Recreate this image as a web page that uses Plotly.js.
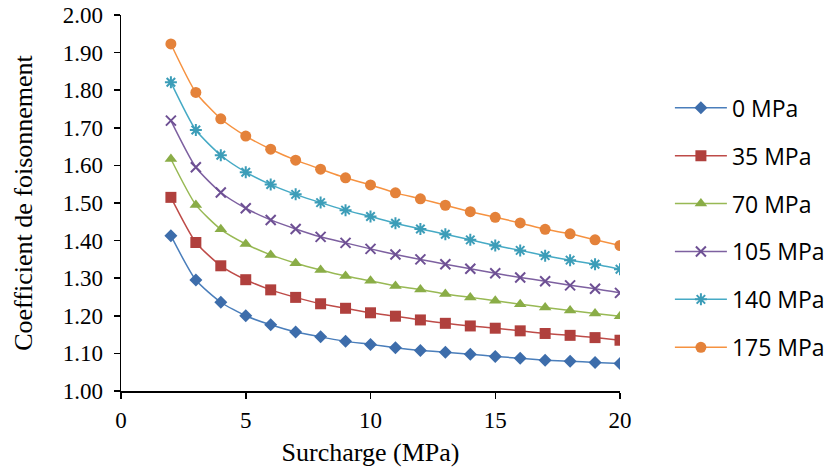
<!DOCTYPE html>
<html><head><meta charset="utf-8">
<script src="https://cdn.plot.ly/plotly-3.0.1.min.js"></script>
<style>body{margin:0;background:#fff}#c{width:826px;height:470px}</style>
</head><body><div id="c"></div>
<script>
const surcharge = [2,3,4,5,6,7,8,9,10,11,12,13,14,15,16,17,18,19,20];
const seriesNames = ['0 MPa','35 MPa','70 MPa','105 MPa','140 MPa','175 MPa'];
const s0   = [1.413,1.295,1.236,1.200,1.176,1.157,1.144,1.132,1.124,1.115,1.108,1.103,1.098,1.092,1.087,1.082,1.079,1.076,1.073];
const s35  = [1.515,1.395,1.333,1.296,1.269,1.249,1.232,1.220,1.208,1.199,1.189,1.180,1.173,1.167,1.160,1.153,1.148,1.142,1.135];
const s70  = [1.617,1.495,1.430,1.391,1.362,1.340,1.322,1.306,1.293,1.279,1.270,1.258,1.249,1.240,1.231,1.222,1.214,1.206,1.199];
const s105 = [1.719,1.595,1.528,1.486,1.455,1.431,1.410,1.394,1.378,1.363,1.350,1.337,1.325,1.313,1.302,1.292,1.281,1.272,1.261];
const s140 = [1.821,1.694,1.627,1.582,1.549,1.523,1.501,1.481,1.464,1.446,1.431,1.417,1.402,1.387,1.374,1.360,1.348,1.337,1.324];
const s175 = [1.923,1.794,1.724,1.678,1.643,1.614,1.590,1.567,1.548,1.527,1.511,1.494,1.477,1.462,1.447,1.430,1.418,1.402,1.387];
const allSeries = [s0,s35,s70,s105,s140,s175];
const lineColors = ['#4A7EBB','#BE4B48','#98B954','#7D60A0','#46AAC5','#F69240'];
const markerColors = ['#3D6DAB','#B0403D','#8AAD47','#6E5094','#3C9DB8','#E4823A'];
const symbols = ['diamond','square','triangle-up','x-thin-open','asterisk-open','circle'];
const sizes = [10,11,11,10,10,11];

const traces = allSeries.map((ys,i)=>{
  const open = symbols[i].endsWith('-open');
  return {
    x: surcharge, y: ys, name: seriesNames[i], type:'scatter', mode:'lines+markers',
    legendgroup: 'g'+i,
    line:{color:lineColors[i], width:1.5, shape:'spline', smoothing:0.6},
    marker:{symbol:symbols[i], size:sizes[i], color:markerColors[i],
      line:{color:markerColors[i], width: open?2:0}}
  };
});

const serif = '"Liberation Serif", "Times New Roman", serif';
const axisFont = {family:serif, size:23, color:'#000'};
const layout = {
  width:826, height:470,
  margin:{l:121, r:206, t:15, b:79, autoexpand:false},
  paper_bgcolor:'#fff', plot_bgcolor:'#fff',
  showlegend:true,
  legend:{x:1.1, xanchor:'left', y:0.434, yanchor:'middle', itemwidth:52,
    font:{family:'"Open Sans", Lato, sans-serif', size:23, color:'#000'},
    tracegroupgap:15, bgcolor:'rgba(0,0,0,0)'},
  xaxis:{range:[0,20], dtick:5, tick0:0, showgrid:false, zeroline:false,
    showline:true, linecolor:'#000', linewidth:1.5, ticks:'outside', ticklen:6, tickcolor:'#000', tickwidth:1.5,
    tickfont:axisFont, ticklabelstandoff:2,
    title:{text:'Surcharge (MPa)', font:{family:serif, size:26, color:'#000'}, standoff:10}},
  yaxis:{range:[1,2], dtick:0.1, tick0:1, tickformat:'.2f', showgrid:false, zeroline:false,
    showline:true, linecolor:'#000', linewidth:1.5, ticks:'outside', ticklen:6, tickcolor:'#000', tickwidth:1.5,
    tickfont:axisFont, ticklabelstandoff:6,
    title:{text:'Coefficient de foisonnement', font:{family:serif, size:26, color:'#000'}, standoff:22}}
};
Plotly.newPlot('c', traces, layout, {staticPlot:true});
</script></body></html>
